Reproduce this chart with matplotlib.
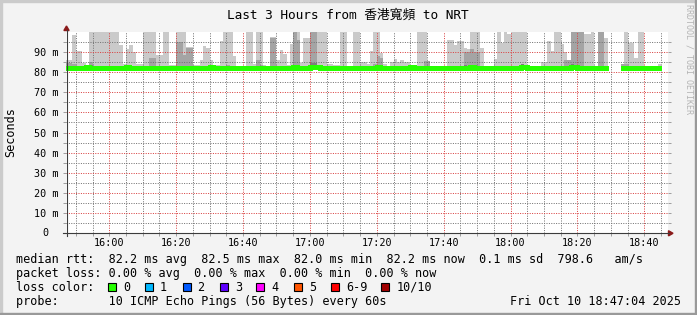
import numpy as np
import matplotlib
matplotlib.use("Agg")
import matplotlib.pyplot as plt
from matplotlib.patches import Rectangle, Polygon
from matplotlib.lines import Line2D

nan = float("nan")

# ---------------- text / labels ----------------
title = "Last 3 Hours from 香港寬頻 to NRT"
y_label = "Seconds"
x_tick_minutes = [60, 80, 100, 120, 140, 160, 180, 200, 220]   # minutes after 15:00
x_tick_labels = ["16:00", "16:20", "16:40", "17:00", "17:20", "17:40", "18:00", "18:20", "18:40"]
y_tick_values = [10, 20, 30, 40, 50, 60, 70, 80, 90]
y_tick_labels = ["10 m", "20 m", "30 m", "40 m", "50 m", "60 m", "70 m", "80 m", "90 m"]
y_zero_label = "0"
view_start_minute = 47.067   # 15:47:04
view_end_minute = 227.067    # 18:47:04
first_bin_minute = 47        # one-minute steps

legend_rtt = "median rtt:  82.2 ms avg  82.5 ms max  82.0 ms min  82.2 ms now  0.1 ms sd  798.6   am/s"
legend_loss = "packet loss: 0.00 % avg  0.00 % max  0.00 % min  0.00 % now"
legend_color_title = "loss color:"
loss_labels = ["0", "1", "2", "3", "4", "5", "6-9", "10/10"]
loss_colors = ["#26ff00", "#00b8ff", "#0059ff", "#5e00ff", "#ff00ff", "#ff5500", "#ff0000", "#a10000"]
legend_probe = "probe:       10 ICMP Echo Pings (56 Bytes) every 60s"
timestamp = "Fri Oct 10 18:47:04 2025"
watermark = "RRDTOOL / TOBI OETIKER"

# ---------------- data (ms, one value per minute) ----------------
median_ms = [
    82.2, 82.2, 82.1, 82.2, 82.2, 82.2, 82.3, 82.2, 82.2, 82.2,
    82.2, 82.1, 82.2, 82.2, 82.2, 82.2, 82.2, 82.2, 82.3, 82.2,
    82.2, 82.2, 82.2, 82.2, 82.2, 82.2, 82.2, 82.1, 82.2, 82.2,
    82.2, 82.2, 82.2, 82.2, 82.1, 82.2, 82.2, 82.2, 82.2, 82.2,
    82.2, 82.2, 82.2, 82.3, 82.2, 82.2, 82.2, 82.2, 82.2, 82.2,
    82.2, 82.2, 82.2, 82.2, 82.2, 82.2, 82.2, 82.2, 82.1, 82.1,
    82.1, 82.2, 82.2, 82.2, 82.2, 82.2, 82.2, 82.2, 82.3, 82.2,
    82.2, 82.2, 82.2, 82.4, 82.5, 82.3, 82.2, 82.2, 82.2, 82.2,
    82.2, 82.2, 82.2, 82.2, 82.2, 82.2, 82.2, 82.2, 82.1, 82.1,
    82.2, 82.2, 82.2, 82.3, 82.2, 82.2, 82.2, 82.2, 82.2, 82.2,
    82.2, 82.2, 82.2, 82.3, 82.2, 82.2, 82.2, 82.2, 82.2, 82.2,
    82.2, 82.2, 82.2, 82.2, 82.2, 82.2, 82.2, 82.2, 82.2, 82.2,
    82.2, 82.3, 82.2, 82.2, 82.2, 82.2, 82.2, 82.2, 82.2, 82.2,
    82.2, 82.2, 82.1, 82.2, 82.1, 82.2, 82.3, 82.3, 82.2, 82.2,
    82.2, 82.2, 82.2, 82.2, 82.2, 82.2, 82.2, 82.2, 82.2, 82.2,
    82.2, 82.3, 82.3, 82.2, 82.2, 82.2, 82.2, 82.2, 82.2, 82.2,
    82.2, 82.0, nan, nan, nan, nan, 82.2, 82.2, 82.2, 82.2,
    82.2, 82.2, 82.2, 82.2, 82.2, 82.2, 82.2, 82.2, nan, nan,
]
ping_max = [
    86.0, 86.0, 98.5, 90.5, 90.5, 84.5, 83.0, 120, 120, 120,
    120, 120, 120, 120, 120, 120, 93.6, 84.0, 91.6, 93.3,
    90.0, 84.2, 84.2, 120, 120, 120, 120, 88.5, 88.5, 120,
    120, 83.5, 83.5, 120, 120, 120, 92.5, 92.5, 83.5, 83.5,
    85.8, 92.8, 91.9, 85.8, 83.5, 83.5, 95.4, 120, 120, 120,
    88.0, 83.0, 83.0, 83.0, 120, 120, 84.0, 120, 120, 83.5,
    83.0, 97.5, 97.5, 86.0, 90.9, 88.8, 83.5, 94.0, 120, 120,
    84.5, 96.7, 96.7, 120, 120, 120, 120, 120, 84.0, 84.0,
    83.5, 83.5, 120, 120, 83.0, 83.0, 120, 120, 84.9, 84.9,
    83.8, 90.5, 120, 120, 89.3, 84.0, 83.2, 84.9, 86.7, 84.9,
    86.1, 84.9, 84.9, 83.5, 83.5, 120, 120, 120, 85.6, 83.2,
    83.2, 83.0, 83.0, 83.0, 96.1, 96.1, 93.3, 95.4, 95.4, 91.9,
    91.5, 120, 120, 120, 91.9, 83.0, 83.0, 83.0, 86.7, 120,
    94.6, 120, 98.9, 120, 120, 120, 120, 120, 83.0, 83.0,
    83.0, 83.0, 84.9, 84.9, 95.4, 90.5, 120, 120, 94.0, 89.8,
    85.8, 120, 120, 120, 120, 99.0, 99.0, 120, 83.0, 120,
    120, 96.8, nan, nan, nan, nan, 84.2, 120, 94.5, 94.5,
    87.0, 120, 120, 83.0, 83.0, 83.0, 83.0, 84.0, nan, nan,
]
ping_9th = [
    84.4, 84.4, 84.0, 82.2, 82.2, 82.2, 82.2, 85.0, 82.2, 82.2,
    82.2, 82.2, 82.2, 82.2, 82.2, 82.2, 82.2, 82.2, 82.2, 82.2,
    82.2, 82.2, 82.2, 82.2, 82.2, 87.2, 87.2, 82.2, 82.2, 82.2,
    82.2, 82.2, 82.2, 94.8, 94.8, 88.4, 92.0, 92.0, 82.2, 82.2,
    82.2, 82.2, 82.2, 82.2, 82.2, 82.2, 82.2, 82.2, 83.5, 83.0,
    82.2, 82.2, 82.2, 82.2, 82.2, 82.2, 82.2, 86.0, 83.5, 82.2,
    82.2, 97.0, 97.0, 82.2, 82.2, 82.2, 82.2, 82.2, 120, 96.0,
    82.2, 82.2, 82.2, 120, 120, 83.0, 82.2, 82.2, 82.2, 82.2,
    82.2, 82.2, 82.2, 82.2, 82.2, 82.2, 82.2, 82.2, 82.2, 82.2,
    82.2, 82.2, 84.0, 88.0, 87.0, 82.2, 82.2, 82.2, 82.2, 82.2,
    82.2, 82.2, 82.2, 83.3, 82.2, 82.2, 82.2, 85.6, 85.6, 82.2,
    82.2, 82.2, 82.2, 82.2, 82.2, 82.2, 82.2, 82.2, 82.2, 90.2,
    89.8, 91.5, 90.0, 90.0, 82.2, 82.2, 82.2, 82.2, 83.0, 82.2,
    82.2, 82.2, 82.2, 82.2, 82.2, 82.2, 83.5, 83.5, 82.2, 82.2,
    82.2, 82.2, 82.2, 82.2, 82.2, 82.2, 82.2, 82.2, 82.2, 85.8,
    85.8, 120, 120, 120, 120, 82.2, 82.2, 82.2, 82.2, 120,
    120, 82.2, nan, nan, nan, nan, 84.2, 84.2, 83.0, 82.2,
    82.2, 82.2, 82.2, 82.2, 82.2, 82.2, 82.2, 82.2, nan, nan,
]
ping_8th = [
    82.2, 82.2, 82.2, 82.2, 82.2, 82.2, 82.2, 83.5, 82.2, 82.2,
    82.2, 82.2, 82.2, 82.2, 82.2, 82.2, 82.2, 82.2, 82.2, 82.2,
    82.2, 82.2, 82.2, 82.2, 82.2, 82.2, 82.2, 82.2, 82.2, 82.2,
    82.2, 82.2, 82.2, 82.2, 82.2, 82.2, 82.2, 82.2, 82.2, 82.2,
    82.2, 82.2, 82.2, 82.2, 82.2, 82.2, 82.2, 82.2, 82.2, 82.2,
    82.2, 82.2, 82.2, 82.2, 82.2, 82.2, 82.2, 82.2, 82.2, 82.2,
    82.2, 82.2, 82.2, 82.2, 82.2, 82.2, 82.2, 82.2, 82.2, 82.2,
    82.2, 82.2, 82.2, 84.5, 84.5, 82.2, 82.2, 82.2, 82.2, 82.2,
    82.2, 82.2, 82.2, 82.2, 82.2, 82.2, 82.2, 82.2, 82.2, 82.2,
    82.2, 82.2, 82.2, 83.5, 82.2, 82.2, 82.2, 82.2, 82.2, 82.2,
    82.2, 82.2, 82.2, 83.5, 82.2, 82.2, 82.2, 82.2, 82.2, 82.2,
    82.2, 82.2, 82.2, 82.2, 82.2, 82.2, 82.2, 82.2, 82.2, 83.5,
    82.2, 82.2, 82.2, 82.2, 82.2, 82.2, 82.2, 82.2, 82.2, 82.2,
    82.2, 82.2, 82.2, 82.2, 82.2, 82.2, 83.8, 83.5, 82.2, 82.2,
    82.2, 82.2, 82.2, 82.2, 82.2, 82.2, 82.2, 82.2, 82.2, 82.2,
    82.2, 83.8, 83.5, 82.2, 82.2, 82.2, 82.2, 82.2, 82.2, 82.2,
    82.2, 82.2, nan, nan, nan, nan, 82.2, 82.2, 82.2, 82.2,
    82.2, 82.2, 82.2, 82.2, 82.2, 82.2, 82.2, 82.2, nan, nan,
]
ping_min = [
    81.8, 81.8, 81.3, 81.8, 81.8, 81.8, 81.8, 81.8, 81.8, 81.8,
    81.8, 81.5, 80.7, 80.7, 80.8, 81.3, 81.8, 81.8, 81.8, 81.8,
    81.8, 81.8, 81.8, 81.8, 81.5, 81.8, 81.8, 81.8, 81.8, 81.8,
    81.8, 81.8, 81.8, 81.0, 81.0, 81.2, 81.8, 81.8, 81.8, 81.8,
    81.8, 81.8, 81.8, 81.8, 81.8, 81.8, 81.5, 81.8, 81.8, 81.8,
    81.8, 81.8, 81.8, 81.8, 81.8, 81.8, 81.8, 81.8, 81.2, 81.2,
    81.2, 81.8, 81.8, 81.8, 81.8, 81.8, 81.8, 81.8, 81.4, 81.8,
    81.8, 81.8, 81.8, 81.8, 81.8, 81.8, 81.8, 81.8, 81.8, 81.8,
    81.8, 81.8, 81.8, 81.8, 81.8, 81.8, 81.8, 81.8, 81.2, 81.2,
    81.5, 81.8, 81.8, 81.8, 81.8, 81.8, 81.8, 81.8, 81.8, 81.8,
    81.8, 81.8, 81.8, 81.8, 81.8, 81.5, 81.8, 81.8, 81.8, 81.8,
    81.8, 81.8, 81.8, 81.8, 81.8, 81.8, 81.8, 81.8, 81.8, 81.8,
    81.8, 81.4, 81.8, 81.8, 81.8, 81.8, 81.8, 81.8, 81.8, 81.8,
    81.8, 81.8, 81.4, 81.4, 81.4, 81.8, 81.8, 81.8, 81.8, 81.8,
    81.8, 81.8, 81.8, 81.8, 81.8, 81.8, 81.8, 81.8, 81.8, 81.8,
    81.5, 81.3, 81.8, 81.8, 81.8, 81.8, 81.8, 81.8, 81.8, 81.4,
    81.4, 81.8, nan, nan, nan, nan, 81.3, 81.2, 81.2, 81.5,
    81.8, 81.8, 81.8, 81.8, 81.8, 81.8, 81.8, 81.8, nan, nan,
]

# ---------------- figure ----------------
plt.rcParams["font.family"] = ["DejaVu Sans Mono", "Noto Sans CJK TC", "DejaVu Sans"]

W, H = 697, 315
fig = plt.figure(figsize=(W / 100, H / 100), dpi=100, facecolor="#f3f3f3")


def fx(x):
    return x / W


def fy(y):
    return 1 - y / H


L, R, T, B = 66, 668, 31.8, 233.3
ax = fig.add_axes([fx(L), fy(B), (R - L) / W, (B - T) / H])
ax.set_facecolor("white")
ax.set_xlim(view_start_minute, view_end_minute)
ax.set_ylim(0, 100)
for s in ax.spines.values():
    s.set_visible(False)

med = np.array(median_ms, dtype=float)
p10 = np.array(ping_max, dtype=float)
p9 = np.array(ping_9th, dtype=float)
p8 = np.array(ping_8th, dtype=float)
p1 = np.array(ping_min, dtype=float)
xb = first_bin_minute + np.arange(len(med))

ax.bar(xb, p10 - p1, bottom=p1, width=1, align="edge", color="#cacaca",
       linewidth=0, antialiased=False, zorder=1)
ax.bar(xb, np.clip(p9 - med, 0, None), bottom=med, width=1, align="edge", color="#a4a4a4",
       linewidth=0, antialiased=False, zorder=1.1)
ax.bar(xb, np.clip(p8 - med, 0, None), bottom=med, width=1, align="edge", color="#7e7e7e",
       linewidth=0, antialiased=False, zorder=1.2)

xs = np.append(xb, xb[-1] + 1)
ys = np.append(med, med[-1])
ax.plot(xs, ys, drawstyle="steps-post", color=loss_colors[0], linewidth=2.2,
        solid_capstyle="butt", solid_joinstyle="miter", antialiased=False, zorder=3)

# grid
ax.set_xticks(x_tick_minutes)
ax.set_xticklabels(x_tick_labels)
ax.set_xticks([m for m in np.arange(50, 227, 5) if m not in x_tick_minutes], minor=True)
ax.set_yticks(y_tick_values)
ax.set_yticklabels(y_tick_labels)
ax.set_yticks(np.arange(5, 100, 10), minor=True)
ax.set_axisbelow(False)
ax.grid(which="major", color=(0.85, 0.25, 0.25, 0.32), linestyle=(0, (1, 1.4)), linewidth=0.72)
ax.grid(which="minor", color=(0.45, 0.45, 0.45, 0.28), linestyle=(0, (1, 1.4)), linewidth=0.72)
ax.tick_params(axis="both", which="both", direction="out", length=2.2, width=0.72,
               color="#a0a0a0", labelsize=7.3, pad=3)
ax.tick_params(axis="y", which="both", right=True, labelright=False)
ax.tick_params(axis="x", which="both", pad=1.5)

# axes lines + arrows
fig.add_artist(Line2D([fx(63), fx(669)], [fy(B), fy(B)], color="#3c3c3c", linewidth=0.8))
fig.add_artist(Line2D([fx(66.5), fx(66.5)], [fy(236), fy(30)], color="#3c3c3c", linewidth=0.8))
fig.add_artist(Polygon([[fx(673), fy(B)], [fx(668.5), fy(B - 2.6)], [fx(668.5), fy(B + 2.6)]],
                       closed=True, color="#8b1a1a", transform=fig.transFigure))
fig.add_artist(Polygon([[fx(66.5), fy(26)], [fx(63.9), fy(30.5)], [fx(69.1), fy(30.5)]],
                       closed=True, color="#8b1a1a", transform=fig.transFigure))

# texts
fig.text(fx(348), fy(15), title, ha="center", va="center", fontsize=9.2, color="black")
fig.text(fx(11), fy(132), y_label, rotation=90, ha="center", va="center", fontsize=8.5)
fig.text(fx(45.5), fy(B), y_zero_label, ha="center", va="center", fontsize=7.3)
fig.text(fx(688.5), fy(4), watermark, rotation=270, ha="center", va="top", fontsize=6, color="#b4b4b4")

fig.text(fx(16), fy(263), legend_rtt, ha="left", va="baseline", fontsize=8.5)
fig.text(fx(16), fy(277), legend_loss, ha="left", va="baseline", fontsize=8.5)
fig.text(fx(16), fy(291), legend_color_title, ha="left", va="baseline", fontsize=8.5)
box_x = [108.4, 145.3, 182.7, 219.6, 256.4, 293.8, 330.7, 381.3]
lab_x = [123.5, 160.0, 197.3, 234.7, 271.6, 308.9, 345.8, 396.4]
for bx, lx, lab, col in zip(box_x, lab_x, loss_labels, loss_colors):
    fig.add_artist(Rectangle((fx(bx), fy(291)), 8 / W, 8.5 / H, facecolor=col, edgecolor="black",
                             linewidth=0.8, transform=fig.transFigure))
    fig.text(fx(lx), fy(291), lab, ha="left", va="baseline", fontsize=8.5)
fig.text(fx(16), fy(305), legend_probe, ha="left", va="baseline", fontsize=8.5)
fig.text(fx(681), fy(305), timestamp, ha="right", va="baseline", fontsize=8.5)

# frame shading
fig.add_artist(Rectangle((0, fy(2)), 1, 2 / H, color="#cbcbcb", transform=fig.transFigure))
fig.add_artist(Rectangle((0, 0), 2 / W, 1, color="#cbcbcb", transform=fig.transFigure))
fig.add_artist(Rectangle((0, 0), 1, 2 / H, color="#999999", transform=fig.transFigure))
fig.add_artist(Rectangle((1 - 2 / W, 0), 2 / W, 1, color="#999999", transform=fig.transFigure))

fig.savefig("out.png", dpi=100, facecolor=fig.get_facecolor())
